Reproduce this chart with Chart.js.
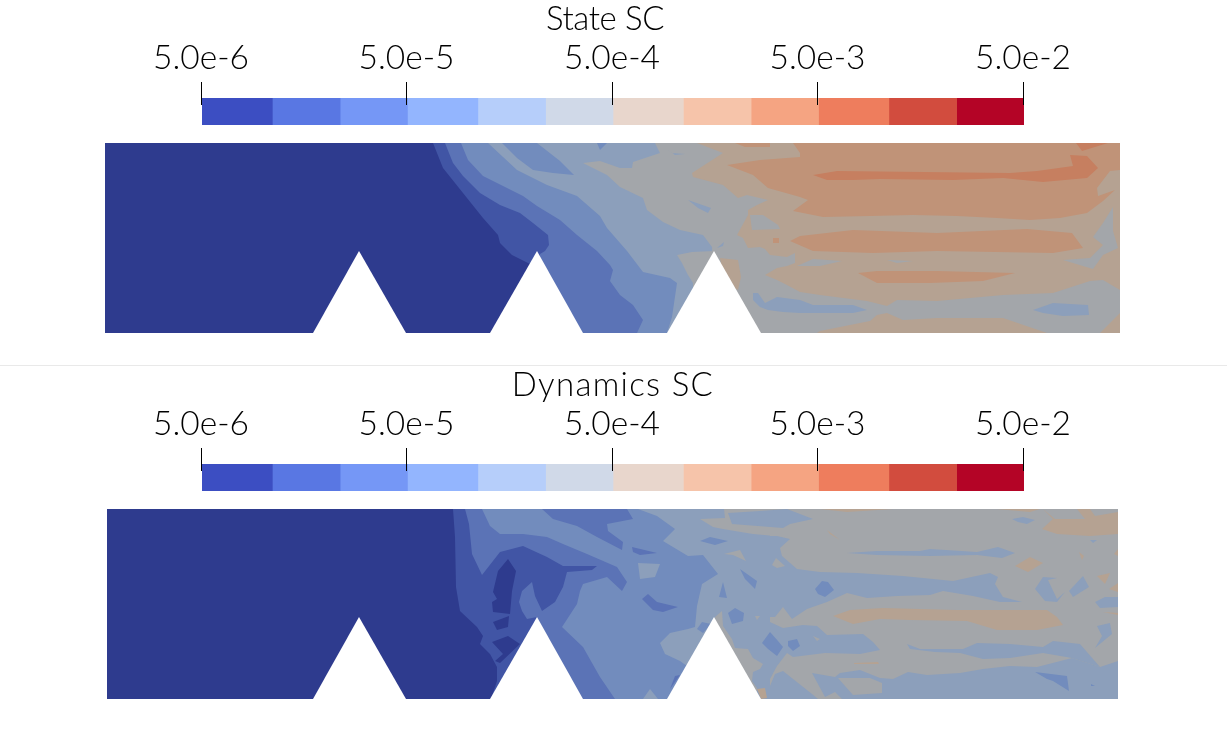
<!DOCTYPE html>
<html lang="en">
<head>
<meta charset="UTF-8">
<title>State SC / Dynamics SC</title>
<script src="https://cdn.jsdelivr.net/npm/chart.js"></script>
<style>
    body { margin: 0; background: #fff; overflow: hidden; }
    canvas { position: absolute; }
    .title { position: absolute; font-family: Lato, sans-serif; font-size: 33px; font-weight: 300; color: #000; text-align: center; white-space: nowrap; transform: translateX(-50%); }
    .sep { position: absolute; left: 0; width: 1227px; height: 1px; top: 365px; background: #e9e9e9; }
</style>
</head>
<body>
<div class="sep"></div>
<canvas id="bar1" style="left:0;top:80px"></canvas>
<canvas id="axis1" style="left:-1px;top:0"></canvas>
<canvas id="map1" style="left:105px;top:143px"></canvas>
<div class="title" style="left:605px;top:-3px;letter-spacing:-0.4px">State SC</div>
<canvas id="bar2" style="left:0;top:446px"></canvas>
<canvas id="axis2" style="left:-1px;top:366px"></canvas>
<canvas id="map2" style="left:105px;top:509px"></canvas>
<div class="title" style="left:613px;top:363px;letter-spacing:1.3px">Dynamics SC</div>
<script>
// colour bar
const binEdges = [5e-6, 1.1e-5, 2.35e-5, 5e-5, 1.1e-4, 2.35e-4, 5e-4, 1.1e-3, 2.35e-3, 5e-3, 1.1e-2, 2.35e-2, 5e-2];
const binColors = ['#3c4ec2', '#5977e3', '#7597f6', '#93b5fe', '#b6cefa', '#d0d9e8', '#e8d6cc', '#f6c4aa', '#f5a482', '#ee7d5d', '#d24c3e', '#b40426'];
const tickValues = [5e-6, 5e-5, 5e-4, 5e-3, 5e-2];
const tickLabels = ['5.0e-6', '5.0e-5', '5.0e-4', '5.0e-3', '5.0e-2'];

// contour levels, painted in order, dull because the surface is half see-through
const levelColors = ['#2e3b8e', '#4155a5', '#5b73b6', '#728cbd', '#8c9fbb', '#a3a6aa', '#b5a292', '#c09378', '#c67f60'];

// [level, [x, y, x, y ...]], x along the channel, y above the floor
const domainState = [[0, [0, 0, 0, 190, 1015, 190, 1015, 0]]];
const domainDynamics = [[0, [2, 0, 2, 190, 1013, 190, 1013, 0]]];

const notches = [
    [208, 0, 254, 82, 301, 0],
    [385, 0, 432, 82, 478, 0],
    [562, 0, 609, 82, 656, 0]
];

const stateContours = [
    [1, [328,190, 338,165, 358,140, 378,115, 393,98, 395,90, 407,78, 425,69, 425,0, 1015,0, 1015,190]],
    [2, [340,190, 348,170, 358,157, 375,140, 395,128, 415,120, 428,110, 443,98, 444,88, 440,82, 435,79, 435,0, 1015,0, 1015,190]],
    [3, [356,190, 363,173, 378,157, 402,145, 418,137, 432,127, 455,113, 472,98, 492,82, 505,68, 508,63, 505,52, 515,38, 528,28, 538,13, 532,0, 1015,0, 1015,190]],
    [4, [383,190, 412,163, 442,148, 472,137, 495,117, 502,105, 522,82, 538,61, 565,55, 572,50, 567,16, 562,0, 1015,0, 1015,190]],
    [3, [397,190, 432,190, 455,172, 469,158, 448,160, 428,163, 412,175]],
    [3, [492,190, 502,190, 495,183]],
    [5, [550,190, 555,180, 528,171, 527,165, 515,165, 495,172, 478,170, 502,158, 515,146, 538,135, 542,123, 558,111, 575,103, 598,98, 607,86, 609,0, 1015,0, 1015,190]],
    [5, [572,78, 587,81, 609,82, 609,0, 588,0, 588,50, 583,58, 577,70]],
    [4, [563,183, 567,180, 580,179, 570,178]],
    [4, [583,133, 606,125, 603,120, 593,125]],
    [4, [612,85, 619,91, 618,87]],
    [6, [592,190, 618,180, 587,160, 588,156, 618,148, 633,135, 642,138, 663,133, 652,128, 643,123, 643,118, 632,98, 638,95, 643,85, 655,86, 660,84, 660,0, 1015,0, 1015,190]],
    [6, [615,75, 633,73, 636,56, 633,43, 620,50]],
    [6, [655,6, 662,6, 662,0, 655,0]],
    [5, [645,118, 658,118, 673,108, 675,104, 647,103]],
    [5, [660,84, 665,78, 682,76, 690,80, 690,70, 682,67, 672,65, 660,58]],
    [5, [660,58, 672,53, 682,48, 695,41, 715,38, 762,32, 782,27, 792,33, 832,32, 898,38, 948,40, 985,52, 998,53, 1015,43, 1015,20, 998,3, 995,0, 942,0, 898,15, 832,15, 798,13, 782,20, 772,18, 765,12, 715,2, 712,0, 655,0, 655,58]],
    [4, [648,40, 653,40, 660,30, 672,36, 695,33, 708,28, 748,28, 762,23, 748,20, 695,20, 678,21, 663,23, 655,26, 648,33]],
    [4, [928,23, 948,30, 983,28, 984,18, 958,17, 938,20]],
    [5, [692,67, 708,74, 737,72, 715,67]],
    [5, [782,73, 808,72, 792,70]],
    [5, [1008,126, 1008,102, 1013,85, 998,78, 988,64, 958,73, 985,75, 998,88, 988,96, 998,110]],
    [7, [688,190, 1015,190, 1015,163, 1005,162, 992,145, 993,137, 1010,143, 998,132, 982,120, 955,115, 925,113, 892,115, 852,117, 808,118, 765,117, 718,116, 688,122, 703,133, 695,136, 663,145, 648,158, 622,168, 655,173, 695,176, 695,180]],
    [7, [630,190, 665,190, 665,186, 640,186]],
    [7, [685,92, 695,97, 748,103, 832,100, 922,104, 967,100, 978,85, 948,80, 832,82, 768,80, 708,82]],
    [7, [753,60, 772,62, 832,62, 910,60, 878,52, 825,50, 772,50]],
    [7, [668,95, 674,95, 674,90, 668,90]],
    [8, [708,158, 732,162, 905,160, 932,162, 968,167, 965,178, 982,177, 993,165, 982,155, 938,151, 898,155, 848,153, 775,154, 748,153, 722,153]],
    [8, [971,190, 1003,190, 977,182]]
];

const dynamicsContours = [
    [1, [348,190, 350,162, 351,112, 355,88, 372,72, 378,63, 375,55, 385,45, 392,32, 392,18, 386,0, 1013,0, 1013,190]],
    [0, [403,140, 411,128, 407,108, 405,85, 388,87, 387,97, 392,100, 388,107, 393,128]],
    [0, [404,83, 403,72, 392,69, 388,77]],
    [0, [403,63, 415,55, 395,36, 390,38, 398,45, 387,57]],
    [2, [360,190, 364,175, 367,145, 377,124, 395,147, 418,153, 442,142, 458,133, 492,133, 487,129, 462,127, 458,112, 450,97, 437,88, 430,103, 427,117, 417,108, 414,97, 417,88, 422,80, 432,82, 432,0, 1013,0, 1013,190]],
    [3, [377,190, 385,173, 395,165, 418,165, 442,162, 458,155, 482,145, 512,132, 522,117, 517,108, 502,122, 478,115, 475,108, 472,95, 457,72, 478,52, 495,22, 510,0, 1013,0, 1013,190]],
    [2, [437,190, 522,190, 528,180, 502,175, 503,168, 518,157, 517,149, 492,162, 472,173, 448,180]],
    [2, [527,152, 552,146, 535,144, 528,147]],
    [2, [537,100, 543,105, 552,97, 573,92, 558,87, 548,89]],
    [2, [565,10, 570,23, 575,24]],
    [4, [533,190, 552,183, 570,170, 558,158, 583,143, 598,144, 613,125, 597,115, 592,93, 590,72, 583,70, 565,66, 555,56, 560,45, 575,38, 582,33, 582,0, 1013,0, 1013,190]],
    [4, [538,0, 545,10, 553,0]],
    [4, [533,136, 555,135, 550,122, 535,120]],
    [3, [592,70, 597,77, 606,75, 598,66]],
    [3, [618,117, 622,101, 614,102]],
    [3, [630,91, 639,86, 638,78, 627,75, 623,86]],
    [3, [595,158, 605,162, 623,158, 610,154]],
    [3, [635,130, 652,118, 650,110, 640,120]],
    [5, [595,180, 620,181, 619,190, 670,190, 670,163, 648,165, 618,170, 608,172]],
    [5, [619,145, 635,149, 641,138, 628,144]],
    [5, [650,83, 655,83, 652,79]],
    [5, [617,88, 618,73, 627,60, 630,51, 643,50, 648,41, 658,35, 655,30, 648,27, 647,18, 652,11, 652,0, 615,0, 610,82]],
    [6, [652,10, 660,11, 662,1, 656,0]],
    [5, [665,190, 1013,190, 1013,0, 665,0]],
    [4, [623,186, 655,188, 682,190, 708,180, 685,175, 678,171, 627,175]],
    [4, [907,180, 918,182, 930,179, 922,175, 913,177]],
    [4, [742,146, 772,148, 815,148, 825,150, 872,147, 893,152, 910,146, 897,141, 872,144, 825,143, 772,144]],
    [4, [665,163, 672,163, 685,160, 675,151, 677,143, 692,130, 715,127, 752,126, 798,123, 848,118, 885,126, 893,122, 890,115, 898,102, 917,97, 895,97, 868,103, 838,108, 825,104, 792,103, 762,101, 742,106, 722,97, 702,90, 687,80, 678,92, 670,82, 665,82]],
    [5, [667,134, 671,141, 680,133, 672,131]],
    [3, [710,110, 717,118, 723,117, 729,109, 720,102, 713,105]],
    [4, [665,77, 678,71, 698,74, 712,73, 722,64, 758,65, 768,57, 775,49, 755,45, 720,46, 688,42, 682,46, 672,33, 665,20]],
    [3, [657,56, 665,67, 673,58, 678,52, 672,43, 663,50]],
    [3, [683,58, 692,60, 695,53, 688,48, 683,53]],
    [5, [708,63, 715,60, 712,58]],
    [4, [802,55, 815,50, 858,50, 872,56, 905,55, 938,52, 948,58, 975,55, 995,32, 967,41, 938,46, 905,41, 878,40, 855,46, 830,47, 805,50]],
    [4, [1013,38, 995,32, 967,41, 932,32, 905,33, 878,30, 855,26, 822,24, 803,27, 788,20, 775,21, 755,29, 735,26, 730,22, 707,26, 720,2, 730,7, 737,0, 1013,0]],
    [5, [733,21, 765,21, 777,16, 777,6, 748,4]],
    [4, [665,13, 670,25, 678,28, 707,5, 713,0, 665,0]],
    [3, [930,27, 962,23, 964,8, 948,18, 942,20]],
    [3, [986,15, 990,13, 986,13]],
    [4, [930,110, 938,122, 952,121, 943,119, 952,100, 960,107, 952,97, 940,98]],
    [4, [964,108, 978,123, 984,112, 968,102]],
    [4, [990,97, 1000,102, 1013,102, 1013,92, 995,91]],
    [4, [992,73, 1005,76, 1007,65, 990,51, 997,63]],
    [4, [985,159, 992,159, 988,156]],
    [6, [728,83, 745,89, 778,91, 852,89, 942,89, 952,82, 958,74, 932,69, 892,69, 862,78, 805,79, 775,80, 748,75]],
    [6, [938,190, 948,180, 937,170, 952,165, 985,163, 1013,165, 1013,187, 990,183, 985,190, 972,190, 980,180, 950,180]],
    [6, [715,190, 788,190, 742,187]],
    [6, [892,190, 935,190, 925,187]],
    [6, [910,133, 925,142, 938,136, 923,127]],
    [6, [992,123, 1005,126, 1000,115]],
    [6, [1004,110, 1013,116, 1013,107]],
    [6, [722,169, 735,159, 725,165]],
    [6, [749,36, 773,37, 774,35, 749,35]],
    [6, [974,147, 979,143, 977,139]],
    [6, [1009,145, 1013,150, 1013,143]],
    [6, [998,87, 1013,86, 1013,84]]
];

const LABEL_FONT = { family: 'Lato, sans-serif', size: 33.5, weight: '300' };

function pairs(flat) {
    const pts = [];
    for (let i = 0; i < flat.length; i += 2) pts.push({ x: flat[i], y: flat[i + 1] });
    return pts;
}

function polygon(flat, color, i) {
    return {
        data: pairs(flat),
        order: -i, // later lists paint on top
        showLine: true,
        fill: 'shape',
        backgroundColor: color,
        borderColor: color,
        borderWidth: 0,
        pointRadius: 0,
        tension: 0
    };
}

function dibujarMapa(id, domain, contours) {
    const canvas = document.getElementById(id);
    canvas.width = 1015;
    canvas.height = 190;
    const sets = domain.concat(contours).map((c, i) => polygon(c[1], levelColors[c[0]], i));
    notches.forEach(n => sets.push(polygon(n, '#ffffff', sets.length)));
    new Chart(canvas, {
        type: 'scatter',
        data: { datasets: sets },
        options: {
            responsive: false,
            animation: false,
            plugins: { legend: { display: false }, tooltip: { enabled: false } },
            scales: {
                x: { type: 'linear', min: 0, max: 1015, display: false },
                y: { type: 'linear', min: 0, max: 190, display: false }
            }
        }
    });
}

function dibujarBarra(id) {
    const canvas = document.getElementById(id);
    canvas.width = 1227;
    canvas.height = 45;
    new Chart(canvas, {
        type: 'bar',
        data: {
            labels: ['SC'],
            datasets: binColors.map((color, i) => ({
                data: [[binEdges[i], binEdges[i + 1]]],
                backgroundColor: color,
                borderWidth: 0,
                grouped: false,
                barPercentage: 1,
                categoryPercentage: 1
            }))
        },
        options: {
            indexAxis: 'y',
            responsive: false,
            animation: false,
            layout: { padding: { left: 202, right: 203, top: 18, bottom: 0 } },
            plugins: { legend: { display: false }, tooltip: { enabled: false } },
            scales: {
                x: { type: 'logarithmic', min: binEdges[0], max: binEdges[12], display: false },
                y: { display: false }
            }
        }
    });
}

function dibujarEje(id) {
    const canvas = document.getElementById(id);
    canvas.width = 1227;
    canvas.height = 105;
    new Chart(canvas, {
        type: 'bar',
        data: { labels: ['SC'], datasets: [{ data: [null] }] },
        options: {
            indexAxis: 'y',
            responsive: false,
            animation: false,
            layout: { padding: { left: 202, right: 203, top: 36, bottom: 0 } },
            plugins: { legend: { display: false }, tooltip: { enabled: false } },
            scales: {
                x: {
                    type: 'logarithmic',
                    position: 'top',
                    min: binEdges[0],
                    max: binEdges[12],
                    clip: false,
                    afterBuildTicks: s => { s.ticks = tickValues.map(v => ({ value: v })); },
                    afterFit: s => { s.height = 62; }, // layout caps the axis at half the canvas otherwise
                    grid: { color: '#000', lineWidth: 1, tickLength: 16, drawOnChartArea: true },
                    border: { display: false },
                    ticks: {
                        color: '#000',
                        font: LABEL_FONT,
                        padding: 4,
                        maxRotation: 0,
                        autoSkip: false,
                        callback: (v, i) => tickLabels[i]
                    }
                },
                y: { display: false }
            }
        }
    });
}

dibujarBarra('bar1');
dibujarEje('axis1');
dibujarMapa('map1', domainState, stateContours);
dibujarBarra('bar2');
dibujarEje('axis2');
dibujarMapa('map2', domainDynamics, dynamicsContours);
</script>
</body>
</html>
